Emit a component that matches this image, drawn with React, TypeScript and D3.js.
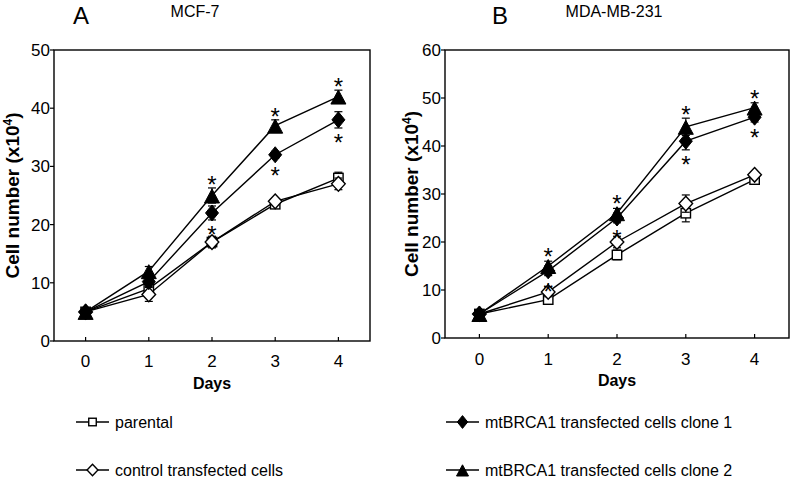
import React from "react";
import * as d3 from "d3";

const days = [0, 1, 2, 3, 4];
const xTicks = [0, 1, 2, 3, 4];

// Panel A: MCF-7
const mcfTicks = [0, 10, 20, 30, 40, 50];
const mcfParental = [5, 9, 17, 23.5, 28];
const mcfParentalErr = [0.4, 0.6, 1, 0.5, 1];
const mcfControl = [5, 8, 17, 24, 27];
const mcfControlErr = [0.4, 1.2, 0.8, 0.5, 1];
const mcfClone1 = [5, 10.2, 22, 32, 38];
const mcfClone1Err = [0.4, 0.8, 1.2, 0.6, 1.4];
const mcfClone2 = [5, 12, 25, 37, 42];
const mcfClone2Err = [0.4, 0.8, 1.3, 1, 1.1];
const mcfStarDays = [2, 3, 4];

// Panel B: MDA-MB-231
const mdaTicks = [0, 10, 20, 30, 40, 50, 60];
const mdaParental = [5, 8, 17.3, 26, 33];
const mdaParentalErr = [0.4, 0.6, 1, 1.8, 0.8];
const mdaControl = [5, 9.6, 20, 28, 34];
const mdaControlErr = [0.4, 1, 1.2, 1.8, 0.6];
const mdaClone1 = [5, 14, 25, 41, 46];
const mdaClone1Err = [0.4, 1, 1, 1.8, 1];
const mdaClone2 = [5, 15, 26, 44, 48];
const mdaClone2Err = [0.4, 1, 1, 1.8, 1];
const mdaStarDays = [1, 2, 3, 4];

const legendLabels = [
  "parental",
  "control transfected cells",
  "mtBRCA1 transfected cells clone 1",
  "mtBRCA1 transfected cells clone 2",
];
const markerTypes = ["square", "odiamond", "fdiamond", "triangle"];

const FONT = "'Liberation Sans', Arial, Helvetica, sans-serif";
const SW = 1.4;

function Marker({ type, x, y, s = 1 }: { type: string; x: number; y: number; s?: number }) {
  if (type === "square") {
    const h = 4.7 * s;
    return <rect x={x - h} y={y - h} width={2 * h} height={2 * h} fill="#fff" stroke="#000" strokeWidth={SW} />;
  }
  if (type === "odiamond") {
    const w = 6.8 * s, h = 7.3 * s;
    return <path d={`M${x},${y - h}L${x + w},${y}L${x},${y + h}L${x - w},${y}Z`} fill="#fff" stroke="#000" strokeWidth={SW} />;
  }
  if (type === "fdiamond") {
    const w = 6.5 * s, h = 8 * s;
    return <path d={`M${x},${y - h}L${x + w},${y}L${x},${y + h}L${x - w},${y}Z`} fill="#000" stroke="#000" strokeWidth={1} />;
  }
  const w = 7.5 * s;
  return <path d={`M${x},${y - 6.5 * s}L${x + w},${y + 7.5 * s}L${x - w},${y + 7.5 * s}Z`} fill="#000" stroke="#000" strokeWidth={1} />;
}

type PanelProps = {
  left: number; right: number; top: number; bottom: number;
  yMax: number; yTicks: number[];
  series: number[][]; errs: number[][]; starDays: number[];
  letter: string; letterX: number; title: string; titleX: number;
  ylabelX: number; daysY: number; tickLabelY: number;
};

function Panel(p: PanelProps) {
  const x = d3.scaleLinear().domain([-0.5, 4.5]).range([p.left, p.right]);
  const y = d3.scaleLinear().domain([0, p.yMax]).range([p.bottom, p.top]);
  const line = d3.line<number>().x((_, i) => x(days[i])).y((v) => y(v));
  const cy = (p.top + p.bottom) / 2;
  return (
    <g>
      <text x={p.letterX} y={24} fontSize={24} textAnchor="middle" fontFamily={FONT}>{p.letter}</text>
      <text x={p.titleX} y={17} fontSize={16} textAnchor="middle" fontFamily={FONT}>{p.title}</text>
      <rect x={p.left} y={p.top} width={p.right - p.left} height={p.bottom - p.top} fill="none" stroke="#000" strokeWidth={1.4} />
      {p.yTicks.map((t) => (
        <g key={"y" + t}>
          <line x1={p.left - 4} x2={p.left} y1={y(t)} y2={y(t)} stroke="#000" strokeWidth={1.2} />
          <text x={p.left - 4} y={y(t) + 6} fontSize={17} textAnchor="end" fontFamily={FONT}>{t}</text>
        </g>
      ))}
      {xTicks.map((t) => (
        <g key={"x" + t}>
          <line x1={x(t)} x2={x(t)} y1={p.bottom} y2={p.bottom - 4} stroke="#000" strokeWidth={1.2} />
          <text x={x(t)} y={p.tickLabelY} fontSize={17} textAnchor="middle" fontFamily={FONT}>{t}</text>
        </g>
      ))}
      <text x={(p.left + p.right) / 2} y={p.daysY} fontSize={16} fontWeight="bold" textAnchor="middle" fontFamily={FONT}>Days</text>
      <text transform={`translate(${p.ylabelX},${cy}) rotate(-90)`} fontSize={19} fontWeight="bold" textAnchor="middle" fontFamily={FONT}>
        Cell number (x10<tspan dy={-7} fontSize={12}>4</tspan><tspan dy={7}>)</tspan>
      </text>
      {p.series.map((s, si) => (
        <g key={"s" + si}>
          <path d={line(s) || ""} fill="none" stroke="#000" strokeWidth={SW} />
        </g>
      ))}
      {p.series.map((s, si) => (
        <g key={"m" + si}>
          {s.map((v, i) => {
            const e = p.errs[si][i];
            const xx = x(days[i]);
            return (
              <g key={i}>
                <line x1={xx} x2={xx} y1={y(v - e)} y2={y(v + e)} stroke="#000" strokeWidth={1.2} />
                <line x1={xx - 4} x2={xx + 4} y1={y(v - e)} y2={y(v - e)} stroke="#000" strokeWidth={1.2} />
                <line x1={xx - 4} x2={xx + 4} y1={y(v + e)} y2={y(v + e)} stroke="#000" strokeWidth={1.2} />
                <Marker type={markerTypes[si]} x={xx} y={y(v)} />
              </g>
            );
          })}
        </g>
      ))}
      {p.starDays.map((d) => {
        const i = days.indexOf(d);
        const up = p.series[3][i], upE = p.errs[3][i];
        const dn = p.series[2][i], dnE = p.errs[2][i];
        const upOff = Math.max(y(up) - y(up + upE), 6) + 9;
        const dnOff = Math.max(y(dn - dnE) - y(dn), 6) + 9;
        return (
          <g key={"st" + d}>
            <text x={x(d)} y={y(up) - upOff + 14} fontSize={24} textAnchor="middle" fontFamily={FONT}>*</text>
            <text x={x(d)} y={y(dn) + dnOff + 14} fontSize={24} textAnchor="middle" fontFamily={FONT}>*</text>
          </g>
        );
      })}
    </g>
  );
}

function LegendItem({ x, y, i }: { x: number; y: number; i: number }) {
  return (
    <g>
      <line x1={x} x2={x + 33} y1={y} y2={y} stroke="#000" strokeWidth={SW} />
      <Marker type={markerTypes[i]} x={x + 16.5} y={y} s={0.8} />
      <text x={x + 39} y={y + 5.5} fontSize={16} fontFamily={FONT}>{legendLabels[i]}</text>
    </g>
  );
}

export default function App() {
  return (
    <svg width={795} height={482} style={{ position: "absolute", left: 0, top: 0, background: "#fff" }}>
      <rect width={795} height={482} fill="#fff" />
      <Panel left={54} right={370} top={50} bottom={341} yMax={50} yTicks={mcfTicks}
        series={[mcfParental, mcfControl, mcfClone1, mcfClone2]}
        errs={[mcfParentalErr, mcfControlErr, mcfClone1Err, mcfClone2Err]}
        starDays={mcfStarDays} letter="A" letterX={81} title="MCF-7" titleX={195}
        ylabelX={19} daysY={389} tickLabelY={367} />
      <Panel left={445} right={789} top={50} bottom={338} yMax={60} yTicks={mdaTicks}
        series={[mdaParental, mdaControl, mdaClone1, mdaClone2]}
        errs={[mdaParentalErr, mdaControlErr, mdaClone1Err, mdaClone2Err]}
        starDays={mdaStarDays} letter="B" letterX={500} title="MDA-MB-231" titleX={614}
        ylabelX={418} daysY={386} tickLabelY={365} />
      <LegendItem x={76} y={422} i={0} />
      <LegendItem x={76} y={470} i={1} />
      <LegendItem x={446} y={422} i={2} />
      <LegendItem x={446} y={470} i={3} />
    </svg>
  );
}
